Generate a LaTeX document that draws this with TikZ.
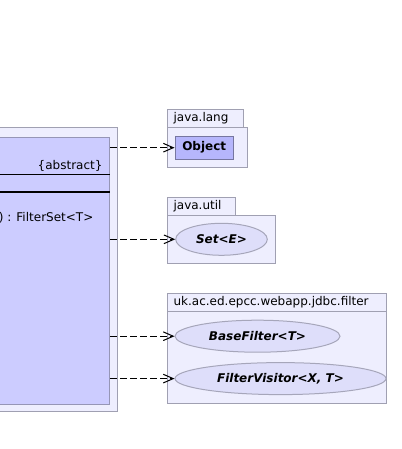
\documentclass[tikz,border=0pt]{standalone}
\usepackage{fontspec}
\setmainfont{DejaVu Sans}
\usetikzlibrary{arrows.meta,shapes.geometric}

\definecolor{pkgfill}{RGB}{238,238,254}
\definecolor{pkgline}{RGB}{160,160,178}
\definecolor{classfill}{RGB}{204,204,255}
\definecolor{classline}{RGB}{150,150,182}
\definecolor{objfill}{RGB}{182,182,252}
\definecolor{objline}{RGB}{118,118,160}
\definecolor{ellfill}{RGB}{222,222,250}
\definecolor{ellline}{RGB}{166,166,186}

\tikzset{
  pkgbox/.style={fill=pkgfill, draw=pkgline, line width=0.75pt},
  pkglabel/.style={anchor=west, inner sep=0pt, font=\fontsize{9pt}{11pt}\selectfont},
  classtext/.style={anchor=east, inner sep=0pt, font=\fontsize{9pt}{11pt}\selectfont},
  classbox/.style={fill=objfill, draw=objline, line width=0.75pt, inner sep=0pt,
    font=\fontsize{9pt}{11pt}\selectfont\bfseries},
  iface/.style={ellipse, fill=ellfill, draw=ellline, line width=0.75pt, inner sep=0pt,
    minimum height=24pt, font=\fontsize{9pt}{11pt}\selectfont\bfseries\itshape},
  dep/.style={draw=black, line width=0.75pt, dash pattern=on 5.25pt off 2.25pt,
    -{Straight Barb[length=7.5pt,width=6.5pt]}}
}

\begin{document}
\begin{tikzpicture}[x=0.75pt, y=-0.75pt]
\clip (0,0) rectangle (402,449);

% enclosing package of the abstract class
\draw[pkgbox] (-6,127.7) rectangle (117.3,411.3);
% the abstract class itself
\node[fill=classfill, draw=classline, line width=0.75pt, anchor=north west,
      minimum width=86.4pt, minimum height=200.25pt, inner sep=0pt] (cls) at (-6,136.7) {};
\node[classtext] (abs) at (102.8,166) {\{abstract\}};
\draw[black, line width=0.75pt] (-6,174.6) coordinate (sepA) -- (sepA -| cls.east);
\draw[black, line width=1.2pt] (-6,191.8) coordinate (sepB) -- (sepB -| cls.east);
\node[classtext] (op) at (93.6,217.7) {) : FilterSet<T>};

% java.lang
\draw[pkgbox] (167.3,110) rectangle (243.3,127.3);
\draw[pkgbox] (167.3,127.3) rectangle (247.3,167.3);
\node[pkglabel] (lang) at (173.3,118.6) {java.lang};
\node[classbox, minimum width=43.7pt, minimum height=17.5pt] (obj) at (204.2,147.7) {Object};

% java.util
\draw[pkgbox] (167.3,197.3) rectangle (235.3,215);
\draw[pkgbox] (167.3,215) rectangle (275.3,263.3);
\node[pkglabel] (util) at (173.3,206) {java.util};
\node[iface, minimum width=68.7pt] (setE) at (221.5,239.3) {Set<E>};

% uk.ac.ed.epcc.webapp.jdbc.filter
\draw[pkgbox] (167.3,293.3) rectangle (386.7,311.7);
\draw[pkgbox] (167.3,311.7) rectangle (386.7,403.3);
\node[pkglabel] (filt) at (173.3,302.4) {uk.ac.ed.epcc.webapp.jdbc.filter};
\node[iface, minimum width=123.75pt] (base) at (257.5,336.2) {BaseFilter<T>};
\node[iface, minimum width=158.25pt] (visit) at (280.5,378.6) {FilterVisitor<X, T>};

% dependencies
\draw[dep] (obj.west -| cls.east) -- (obj.west);
\draw[dep] (setE.west -| cls.east) -- (setE.west);
\draw[dep] (base.west -| cls.east) -- (base.west);
\draw[dep] (visit.west -| cls.east) -- (visit.west);
\end{tikzpicture}
\end{document}
